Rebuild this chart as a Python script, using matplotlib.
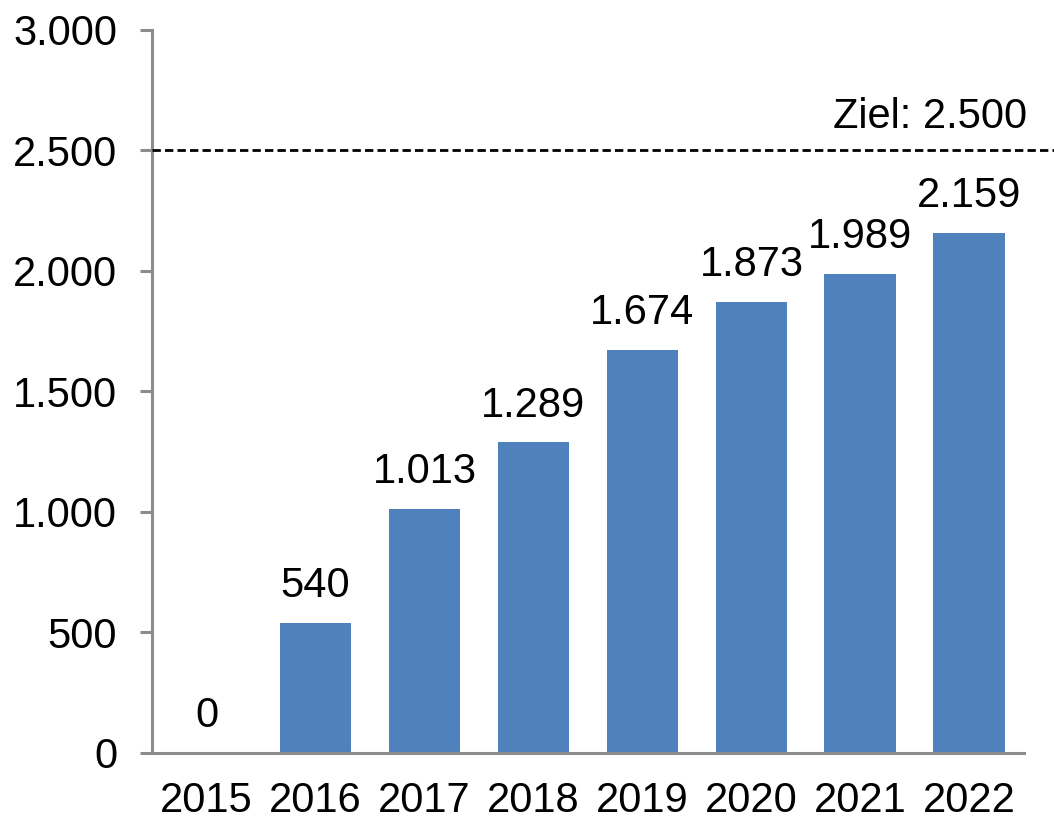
import matplotlib.pyplot as plt

years = ["2015", "2016", "2017", "2018", "2019", "2020", "2021", "2022"]
values = [0, 540, 1013, 1289, 1674, 1873, 1989, 2159]
labels = ["0", "540", "1.013", "1.289", "1.674", "1.873", "1.989", "2.159"]
target = 2500
yticks = [0, 500, 1000, 1500, 2000, 2500, 3000]
ytick_labels = ["0", "500", "1.000", "1.500", "2.000", "2.500", "3.000"]

plt.rcParams["font.family"] = ["Liberation Sans", "DejaVu Sans"]

fig = plt.figure(figsize=(10.54, 8.24), dpi=100)
ax = fig.add_axes([0.1442, 0.0862, 0.8273, 0.8774])

x = list(range(len(years)))
bars = ax.bar(x, values, width=0.66, color="#4f81bd", zorder=2)
ax.bar_label(bars, labels=labels, padding=12, fontsize=30)

ax.set_xlim(-0.5, 7.5)
ax.set_ylim(0, 3000)
ax.set_xticks(x)
ax.set_xticklabels(years)
ax.set_yticks(yticks)
ax.set_yticklabels(ytick_labels)

gray = "#8c8c8c"
for s in ["top", "right"]:
    ax.spines[s].set_visible(False)
for s in ["left", "bottom"]:
    ax.spines[s].set_color(gray)
    ax.spines[s].set_linewidth(2.2)

ax.tick_params(axis="y", length=9, width=2.2, color=gray, labelsize=30, pad=16)
ax.tick_params(axis="x", length=0, labelsize=30, pad=20)

# target line runs past the axes to the figure edge
ax.plot([-0.5, 7.8], [target, target], color="black", lw=2,
        dashes=(3, 1.5), clip_on=False, zorder=3)
ax.annotate("Ziel: 2.500", xy=(7.5, target), xytext=(2, 10),
            textcoords="offset points", ha="right", va="bottom", fontsize=30)

fig.savefig("out.png", dpi=100)
